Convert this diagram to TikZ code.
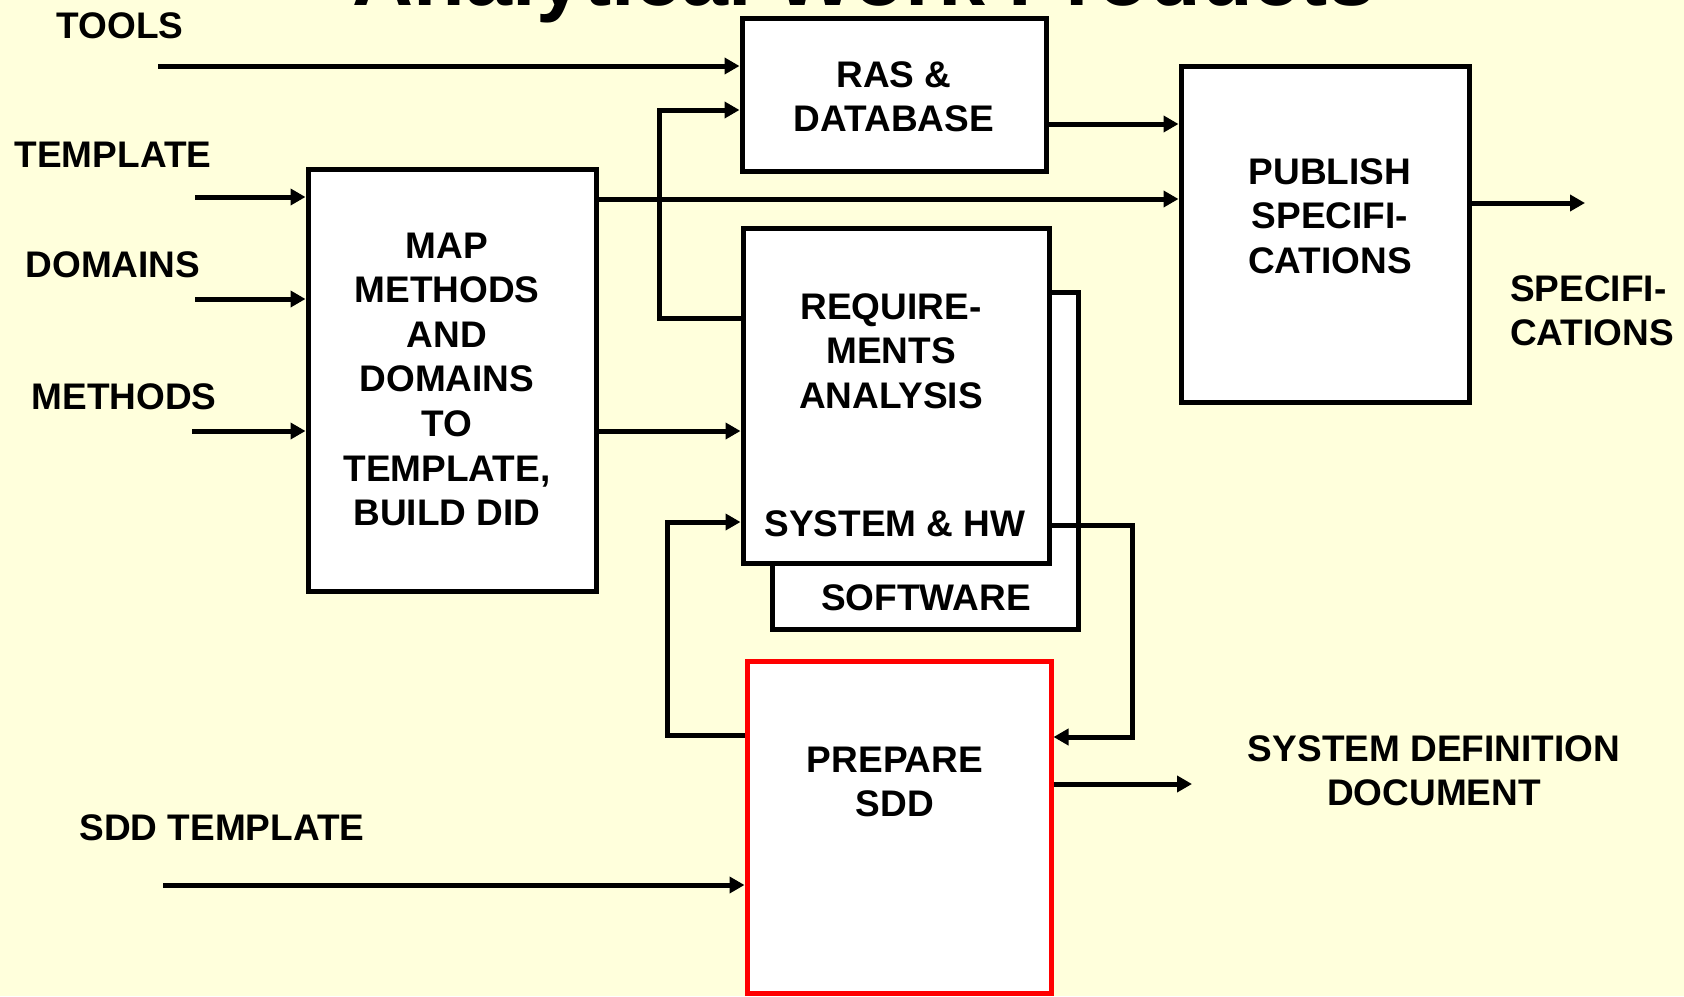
\documentclass[tikz,border=0pt]{standalone}
\usepackage{fontspec}
\setmainfont{Liberation Sans}
\usetikzlibrary{arrows.meta}

\definecolor{slidebg}{RGB}{255,255,220}
\definecolor{sddred}{RGB}{255,0,0}

\tikzset{
  blk/.style={draw, line width=5pt, fill=white, inner sep=0pt},
  lbl/.style={font=\fontsize{37}{44.6}\selectfont\bfseries, align=center, inner sep=0pt},
  wire/.style={line width=5pt},
  flow/.style={wire, -{Triangle[length=15pt,width=16pt]}}
}

\begin{document}
\begin{tikzpicture}[x=1pt, y=-1pt]
  % Page and background
  \useasboundingbox (0,0) rectangle (1684,996);
  \fill[slidebg] (0,0) rectangle (1684,996);
  % Title, cut by the top edge
  \begin{scope}
    \clip (0,0) rectangle (1684,996);
    \node[font=\fontsize{84.5}{100}\selectfont\bfseries, inner sep=0pt, anchor=base] (title) at (864,5) {Analytical Work Products};
  \end{scope}

  % Boxes
  \node[blk, minimum width=304pt, minimum height=153pt] (ras) at (894,94.5) {};
  \node[blk, minimum width=288pt, minimum height=336pt] (pub) at (1325,234) {};
  \node[blk, minimum width=288pt, minimum height=422pt] (map) at (452,380) {};
  \node[blk, minimum width=306pt, minimum height=337pt] (sw) at (925,460.5) {};
  \node[blk, minimum width=306pt, minimum height=335pt] (req) at (896,395.5) {};
  \node[blk, draw=sddred, minimum width=304pt, minimum height=332pt] (sdd) at (899,827) {};

  % Box texts (base = last line)
  \node[lbl, anchor=base] (rastxt) at (894,131.6) {RAS \&\\DATABASE};
  \node[lbl, anchor=base] (pubtxt) at (1330,273.2) {PUBLISH\\SPECIFI-\\CATIONS};
  \node[lbl, anchor=base] (maptxt) at (447,525.6) {MAP\\METHODS\\AND\\DOMAINS\\TO\\TEMPLATE,\\BUILD DID};
  \node[lbl, anchor=base] (reqtxt) at (891,408.2) {REQUIRE-\\MENTS\\ANALYSIS};
  \node[lbl, anchor=base] (hwtxt) at (895,536) {SYSTEM \& HW};
  \node[lbl, anchor=base] (swtxt) at (926,610) {SOFTWARE};
  \node[lbl, anchor=base] (sddtxt) at (895,816.6) {PREPARE\\SDD};

  % Outside labels
  \node[lbl, anchor=base] (tools) at (120,38) {TOOLS};
  \node[lbl, anchor=base] (template) at (113,167) {TEMPLATE};
  \node[lbl, anchor=base] (domains) at (113,277) {DOMAINS};
  \node[lbl, anchor=base] (methods) at (124,409) {METHODS};
  \node[lbl, anchor=base] (sddtpl) at (222,840) {SDD TEMPLATE};
  \node[lbl, align=left, anchor=base west] (specs) at (1510,345.6) {SPECIFI-\\CATIONS};
  \node[lbl, anchor=base] (sdddoc) at (1434,805.6) {SYSTEM DEFINITION\\DOCUMENT};

  % Free ends
  \coordinate (toolsin) at (158,66);
  \coordinate (tplin) at (195,197);
  \coordinate (domin) at (195,299);
  \coordinate (methin) at (192,431);
  \coordinate (sddtplin) at (163,885);
  \coordinate (specout) at (1585,203);
  \coordinate (sddout) at (1192,784);

  % Inputs
  \draw[flow] (toolsin) -- (toolsin -| ras.west);
  \draw[flow] (tplin) -- (tplin -| map.west);
  \draw[flow] (domin) -- (domin -| map.west);
  \draw[flow] (methin) -- (methin -| map.west);
  \draw[flow] (sddtplin) -- (sddtplin -| sdd.west);

  % Between boxes
  \draw[flow] (map.east |- 0,199) -- (pub.west |- 0,199);
  \draw[flow] (map.east |- 0,431) -- (req.west |- 0,431);
  \draw[flow] (ras.east |- 0,124) -- (pub.west |- 0,124);
  \draw[flow] (req.west |- 0,318) -- (659,318) -- (659,110) -- (ras.west |- 0,110);
  \draw[flow] (req.east |- 0,525) -- (1132,525) -- (1132,737) -- (sdd.east |- 0,737);
  \draw[flow] (sdd.west |- 0,735) -- (667,735) -- (667,522) -- (req.west |- 0,522);

  % Outputs
  \draw[flow] (pub.east |- specout) -- (specout);
  \draw[flow] (sdd.east |- sddout) -- (sddout);
\end{tikzpicture}
\end{document}
